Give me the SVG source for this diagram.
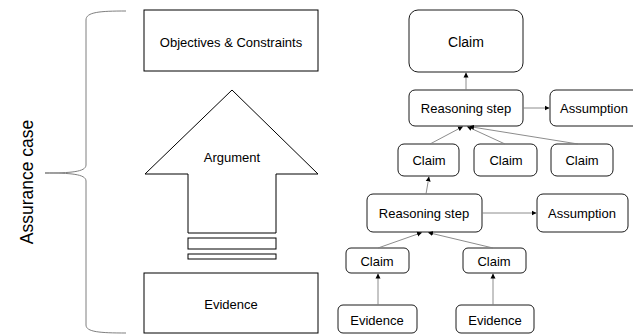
<svg xmlns="http://www.w3.org/2000/svg" width="633" height="336" viewBox="0 0 633 336">
<style>
.box{fill:#fff;stroke:#000;stroke-width:1}
.rbox{fill:#fff;stroke:#000;stroke-width:0.9}
.t{font-family:"Liberation Sans",Arial,sans-serif;font-size:13px;fill:#000;text-anchor:middle;dominant-baseline:central}
.c{fill:none;stroke:#7f7f7f;stroke-width:0.9;marker-end:url(#ah)}
</style>
<defs>
<marker id="ah" markerUnits="userSpaceOnUse" markerWidth="6" markerHeight="6" refX="5" refY="3" orient="auto">
<path d="M0,0.5 L5,3 L0,5.5 Z" fill="#000"/>
</marker>
</defs>
<rect width="633" height="336" fill="#fff"/>
<g id="brace">
<path d="M126,11 C100,11 86,12 86,20 L86,165 C86,172 70,173 45,173 C70,173 86,174 86,181 L86,325 C86,332 100,333 126,333" fill="none" stroke="#7f7f7f" stroke-width="1"/>
<text x="27" y="182" transform="rotate(-90 27 182)" class="t" style="font-size:17.5px">Assurance case</text>
</g>
<g id="objectives">
<rect class="box" x="144" y="10" width="174" height="61"/>
<text class="t" x="231" y="42">Objectives &amp; Constraints</text>
</g>
<g id="argument">
<path class="box" d="M232,90 L318,174 L276,174 L276,233 L188,233 L188,174 L145,174 Z"/>
<text class="t" x="232" y="157">Argument</text>
<rect class="box" x="188" y="238" width="88" height="11"/>
<rect class="box" x="188" y="254" width="88" height="5"/>
</g>
<g id="evidence">
<rect class="box" x="144" y="273" width="174" height="60"/>
<text class="t" x="231" y="304">Evidence</text>
</g>
<g id="claim-top">
<rect class="rbox" x="409" y="10" width="114" height="62" rx="9"/>
<text class="t" x="466" y="42" style="font-size:14px">Claim</text>
</g>
<g id="reasoning1">
<rect class="rbox" x="409" y="90" width="114" height="36" rx="6"/>
<text class="t" x="466" y="108">Reasoning step</text>
</g>
<g id="assumption1">
<rect class="rbox" x="550" y="90" width="90" height="36" rx="6"/>
<text class="t" x="594" y="108">Assumption</text>
</g>
<g id="claim-a">
<rect class="rbox" x="398" y="144" width="61" height="32" rx="6"/>
<text class="t" x="429" y="160">Claim</text>
</g>
<g id="claim-b">
<rect class="rbox" x="474" y="144" width="63" height="32" rx="6"/>
<text class="t" x="506" y="160">Claim</text>
</g>
<g id="claim-c">
<rect class="rbox" x="551" y="144" width="62" height="32" rx="6"/>
<text class="t" x="582" y="160">Claim</text>
</g>
<g id="reasoning2">
<rect class="rbox" x="367" y="194" width="115" height="38" rx="6"/>
<text class="t" x="424" y="213">Reasoning step</text>
</g>
<g id="assumption2">
<rect class="rbox" x="537" y="194" width="91" height="38" rx="6"/>
<text class="t" x="582" y="213">Assumption</text>
</g>
<g id="claim-d">
<rect class="rbox" x="346" y="248" width="63" height="25" rx="5"/>
<text class="t" x="377" y="261">Claim</text>
</g>
<g id="claim-e">
<rect class="rbox" x="463" y="248" width="63" height="25" rx="5"/>
<text class="t" x="494" y="261">Claim</text>
</g>
<g id="evidence-d">
<rect class="rbox" x="338" y="305" width="79" height="28" rx="5"/>
<text class="t" x="377" y="320">Evidence</text>
</g>
<g id="evidence-e">
<rect class="rbox" x="456" y="305" width="78" height="28" rx="5"/>
<text class="t" x="495" y="320">Evidence</text>
</g>
<g id="connectors">
<line class="c" x1="466" y1="90" x2="466" y2="72.5"/>
<line class="c" x1="523" y1="108" x2="549.5" y2="108"/>
<line class="c" x1="430" y1="144" x2="463" y2="126.5"/>
<line class="c" x1="505" y1="144" x2="467" y2="126.5"/>
<line class="c" x1="578" y1="144" x2="469" y2="126.5"/>
<line class="c" x1="426" y1="194" x2="429" y2="176.5"/>
<line class="c" x1="482" y1="213" x2="536.5" y2="213"/>
<line class="c" x1="378" y1="248" x2="422" y2="232.5"/>
<line class="c" x1="493" y1="248" x2="428" y2="232.5"/>
<line class="c" x1="378" y1="305" x2="378" y2="273.5"/>
<line class="c" x1="493" y1="305" x2="493" y2="273.5"/>
</g>
</svg>
